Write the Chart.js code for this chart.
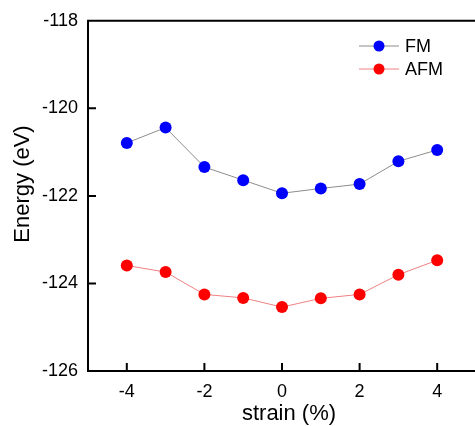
<!DOCTYPE html>
<html lang="en">
<head>
<meta charset="UTF-8"/>
<title>Energy vs strain</title>
<script src="https://cdn.jsdelivr.net/npm/chart.js"></script>
<style>
  *{margin:0;padding:0;box-sizing:border-box}
  html,body{width:475px;height:426px;overflow:hidden;background:#fff}
  #wrap{width:482px;height:426px;position:relative}
</style>
</head>
<body>
<div id="wrap"><canvas id="c"></canvas></div>
<script>
// data
const strain = [-4, -3, -2, -1, 0, 1, 2, 3, 4];
const fmEnergy = [-120.79, -120.44, -121.34, -121.64, -121.94, -121.83, -121.73, -121.21, -120.95];
const afmEnergy = [-123.59, -123.74, -124.25, -124.33, -124.54, -124.34, -124.25, -123.80, -123.47];
const seriesNames = ['FM', 'AFM'];
const xTicks = [-4, -2, 0, 2, 4];
const yTicks = [-126, -124, -122, -120, -118];
const xTitle = 'strain (%)';
const yTitle = 'Energy (eV)';

const FONT = "'Liberation Sans', Arial, sans-serif";
const pts = arr => strain.map((x, i) => ({x, y: arr[i]}));

// inward ticks, top frame line, axis titles and the line+marker legend
const framePlugin = {
  id: 'frame',
  afterDraw(chart) {
    const {ctx, chartArea: a, scales} = chart;
    ctx.save();
    ctx.strokeStyle = '#000';
    ctx.lineWidth = 2;
    ctx.beginPath();
    ctx.moveTo(a.left - 1, a.top);
    ctx.lineTo(a.right + 1, a.top);
    xTicks.forEach(v => {
      const px = scales.x.getPixelForValue(v);
      ctx.moveTo(px, a.bottom);
      ctx.lineTo(px, a.bottom - 8);
    });
    yTicks.forEach(v => {
      const py = scales.y.getPixelForValue(v);
      ctx.moveTo(a.left, py);
      ctx.lineTo(a.left + 8, py);
    });
    ctx.stroke();

    // axis titles
    ctx.fillStyle = '#000';
    ctx.font = '22px ' + FONT;
    ctx.textAlign = 'center';
    ctx.textBaseline = 'middle';
    ctx.fillText(xTitle, 289, 414);
    ctx.save();
    ctx.translate(23, 184);
    ctx.rotate(-Math.PI / 2);
    ctx.fillText(yTitle, 0, 0);
    ctx.restore();

    // legend
    ctx.textAlign = 'left';
    chart.data.datasets.forEach((ds, i) => {
      const y = 46 + i * 23;
      ctx.strokeStyle = ds.borderColor;
      ctx.lineWidth = 1;
      ctx.beginPath();
      ctx.moveTo(359, y);
      ctx.lineTo(399, y);
      ctx.stroke();
      ctx.fillStyle = ds.pointBackgroundColor;
      ctx.beginPath();
      ctx.arc(379, y, 5.5, 0, Math.PI * 2);
      ctx.fill();
      ctx.fillStyle = '#000';
      ctx.font = '18px ' + FONT;
      ctx.fillText(ds.label, 405, y + 1);
    });
    ctx.restore();
  }
};

new Chart(document.getElementById('c'), {
  type: 'line',
  data: {
    datasets: [
      {label: seriesNames[0], data: pts(fmEnergy), borderColor: '#8c8c8c', borderWidth: 1,
       pointBackgroundColor: '#0000ff', pointBorderColor: '#0000ff', pointRadius: 6, pointBorderWidth: 0},
      {label: seriesNames[1], data: pts(afmEnergy), borderColor: '#f08080', borderWidth: 1,
       pointBackgroundColor: '#ff0000', pointBorderColor: '#ff0000', pointRadius: 6, pointBorderWidth: 0}
    ]
  },
  options: {
    responsive: true,
    maintainAspectRatio: false,
    animation: false,
    layout: {padding: {top: 19, right: 2, left: 0, bottom: 0}},
    plugins: {legend: {display: false}, tooltip: {enabled: false}},
    scales: {
      x: {
        type: 'linear', min: -5, max: 5,
        afterBuildTicks: s => { s.ticks = xTicks.map(v => ({value: v})); },
        afterFit: s => { s.height = 55; },
        grid: {display: false, drawTicks: false},
        border: {display: true, color: '#000', width: 2},
        ticks: {color: '#000', font: {family: FONT, size: 18}, padding: 10, maxRotation: 0}
      },
      y: {
        min: -126, max: -118,
        afterBuildTicks: s => { s.ticks = yTicks.map(v => ({value: v})); },
        afterFit: s => { s.width = 88; },
        grid: {display: false, drawTicks: false},
        border: {display: true, color: '#000', width: 2},
        ticks: {color: '#000', font: {family: FONT, size: 18}, padding: 10}
      }
    }
  },
  plugins: [framePlugin]
});
</script>
</body>
</html>
